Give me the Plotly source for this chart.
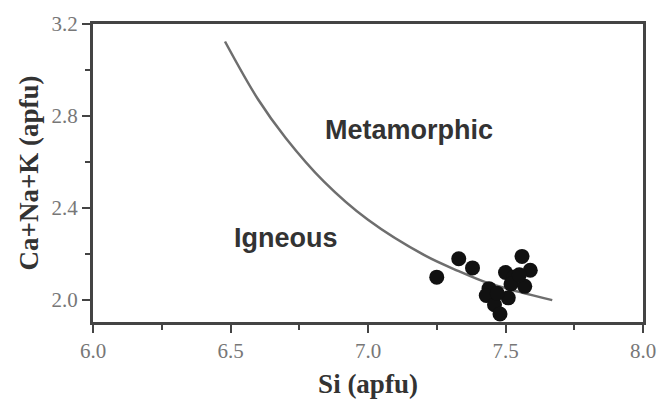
import plotly.graph_objects as go

# Sample data
si = [7.25, 7.33, 7.38, 7.56, 7.59, 7.50, 7.53, 7.52, 7.57, 7.44, 7.43, 7.46, 7.48, 7.51, 7.55, 7.47]
cank = [2.10, 2.18, 2.14, 2.19, 2.13, 2.12, 2.10, 2.07, 2.06, 2.05, 2.02, 1.98, 1.94, 2.01, 2.11, 2.03]

# Boundary curve points
curve_x = [6.48, 6.60, 6.70, 6.84, 7.00, 7.21, 7.33, 7.43, 7.55, 7.67]
curve_y = [3.124, 2.873, 2.706, 2.515, 2.349, 2.192, 2.126, 2.077, 2.036, 2.00]

x_ticks = [6.0, 6.5, 7.0, 7.5, 8.0]
y_ticks = [2.0, 2.4, 2.8, 3.2]

fig = go.Figure()
fig.add_trace(go.Scatter(x=curve_x, y=curve_y, mode="lines", line=dict(color="#6e6e6e", width=2.5, shape="spline"),
                         hoverinfo="skip", showlegend=False))
fig.add_trace(go.Scatter(x=si, y=cank, mode="markers", marker=dict(color="#111111", size=15),
                         showlegend=False))

fig.add_annotation(x=7.15, y=2.74, text="<b>Metamorphic</b>", showarrow=False,
                   font=dict(family="Liberation Sans, Arial", size=27, color="#333333"))
fig.add_annotation(x=6.70, y=2.27, text="<b>Igneous</b>", showarrow=False,
                   font=dict(family="Liberation Sans, Arial", size=27, color="#333333"))

axis_common = dict(showline=True, mirror=True, linewidth=3, linecolor="#444444", showgrid=False, zeroline=False,
                   ticks="outside", ticklen=8, tickwidth=2, tickcolor="#444444",
                   tickfont=dict(family="Liberation Serif, Times New Roman", size=21, color="#777777"))

fig.update_xaxes(range=[6.0, 8.0], tickvals=x_ticks, ticktext=[f"{v:.1f}" for v in x_ticks],
                 minor=dict(dtick=0.25, ticks="outside", ticklen=5, tickwidth=2, tickcolor="#444444", tick0=6.0),
                 title=dict(text="<b>Si (apfu)</b>", standoff=12,
                            font=dict(family="Liberation Serif, Times New Roman", size=27, color="#333333")),
                 **axis_common)
fig.update_yaxes(range=[1.905, 3.2], tickvals=y_ticks, ticktext=[f"{v:.1f}" for v in y_ticks],
                 minor=dict(dtick=0.2, ticks="outside", ticklen=5, tickwidth=2, tickcolor="#444444", tick0=2.0),
                 title=dict(text="<b>Ca+Na+K (apfu)</b>", standoff=6,
                            font=dict(family="Liberation Serif, Times New Roman", size=27, color="#333333")),
                 **axis_common)

fig.update_layout(width=668, height=406, margin=dict(l=93, r=18, t=24, b=81),
                  paper_bgcolor="white", plot_bgcolor="white")

fig.write_html("out.html")
